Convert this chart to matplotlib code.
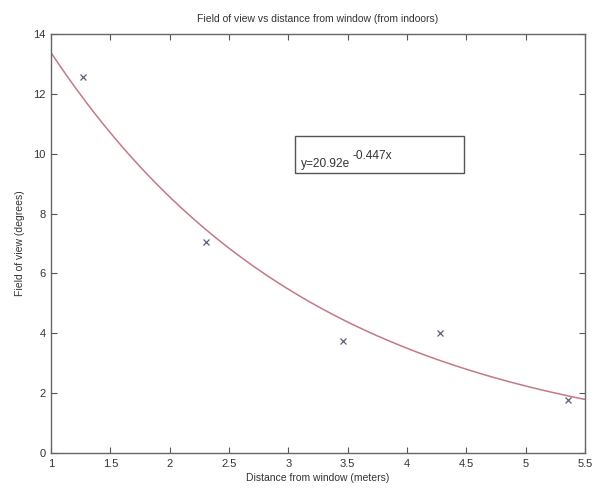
import numpy as np
import matplotlib
matplotlib.use("Agg")
import matplotlib.pyplot as plt
from matplotlib.patches import Rectangle

plt.rcParams['font.family'] = ['Liberation Sans', 'DejaVu Sans']

# Data
distance = [1.27, 2.31, 3.46, 4.28, 5.36]
fov = [12.55, 7.05, 3.75, 4.01, 1.77]
fit_a = 20.92
fit_b = -0.447
x_ticks = [1, 1.5, 2, 2.5, 3, 3.5, 4, 4.5, 5, 5.5]
x_tick_labels = ['1', '1.5', '2', '2.5', '3', '3.5', '4', '4.5', '5', '5.5']
y_ticks = [0, 2, 4, 6, 8, 10, 12, 14]

fig = plt.figure(figsize=(5.93, 4.97), dpi=100)
ax = fig.add_axes([51/593, 1-453/497, 534/593, 419/497])

xf = np.linspace(1, 5.5, 200)
ax.plot(xf, fit_a*np.exp(fit_b*xf), color='#c27a84', lw=1.1)
ax.plot(distance, fov, 'x', color='#5a5f7a', ms=5, mew=0.9)

ax.set_xlim(1, 5.5)
ax.set_ylim(0, 14)
ax.set_xticks(x_ticks)
ax.set_xticklabels(x_tick_labels)
ax.set_yticks(y_ticks)
ax.tick_params(direction='in', top=True, right=True, length=4, width=0.8,
               colors='#555555', labelcolor='#333333', labelsize=8, pad=4)
for s in ax.spines.values():
    s.set_color('#666666')
    s.set_linewidth(1.0)

ax.set_title('Field of view vs distance from window (from indoors)', fontsize=7.5,
             color='#333333', pad=9)
ax.set_xlabel('Distance from window (meters)', fontsize=7.5, color='#333333', labelpad=3)
ax.set_ylabel('Field of view (degrees)', fontsize=7.5, color='#333333', labelpad=6)

ax.add_patch(Rectangle((3.06, 9.36), 1.42, 1.23, fill=False, edgecolor='#555555', lw=1.0))
base = ax.text(3.105, 9.57, 'y=20.92e', fontsize=8.6, color='#333333')
ax.annotate('-0.447x', xy=(1, 0), xycoords=base, xytext=(1.5, 5.5),
            textcoords='offset points', fontsize=8.6, color='#333333',
            ha='left', va='bottom')

fig.savefig('out.png', dpi=100)
